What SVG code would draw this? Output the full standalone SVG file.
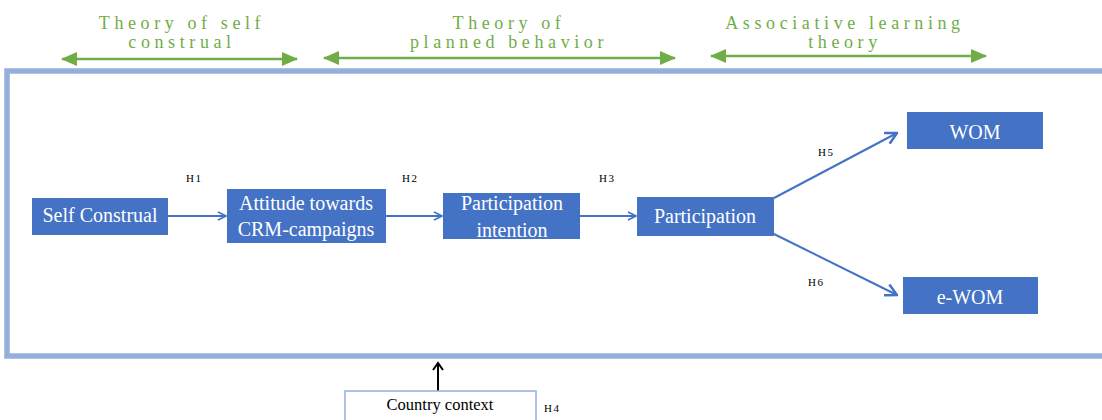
<svg xmlns="http://www.w3.org/2000/svg" width="1102" height="420" viewBox="0 0 1102 420">
<style>
.node{fill:#4472C4;}
.nt{font-family:"Liberation Serif","Times New Roman",serif;font-size:20px;fill:#fff;text-anchor:middle;}
.theory{font-family:"Liberation Serif","Times New Roman",serif;font-size:18px;fill:#70AD47;text-anchor:middle;letter-spacing:4.6px;}
.h{font-family:"Liberation Serif","Times New Roman",serif;font-size:11px;fill:#000;letter-spacing:1.5px;}
.conn{stroke:#4472C4;stroke-width:2;fill:none;}
.g{stroke:#70AD47;stroke-width:2.5;fill:none;}
</style>
<defs>
<marker id="ab" viewBox="0 0 10 10" refX="9" refY="5" markerWidth="10" markerHeight="10" markerUnits="userSpaceOnUse" orient="auto">
<path d="M1,1 L9,5 L1,9" fill="none" stroke="#4472C4" stroke-width="1.6"/>
</marker>
<marker id="abl" viewBox="0 0 14 14" refX="12.5" refY="7" markerWidth="14" markerHeight="14" markerUnits="userSpaceOnUse" orient="auto">
<path d="M1,1 L12.5,7 L1,13" fill="none" stroke="#4472C4" stroke-width="2.5"/>
</marker>
<marker id="ak" viewBox="0 0 12 12" refX="10" refY="6" markerWidth="12" markerHeight="12" markerUnits="userSpaceOnUse" orient="auto">
<path d="M3,1 L10,6 L3,11" fill="none" stroke="#000" stroke-width="2"/>
</marker>
<marker id="ag" viewBox="0 0 16 14" refX="15" refY="7" markerWidth="16" markerHeight="14" markerUnits="userSpaceOnUse" orient="auto-start-reverse">
<path d="M0,0 L16,7 L0,14 Z" fill="#70AD47"/>
</marker>
</defs>

<g id="theories">
<text class="theory" x="182" y="29">Theory of self</text>
<text class="theory" x="182" y="48">construal</text>
<text class="theory" x="509" y="29">Theory of</text>
<text class="theory" x="509" y="48">planned behavior</text>
<text class="theory" x="845" y="29">Associative learning</text>
<text class="theory" x="845" y="48">theory</text>
<line class="g" x1="62" y1="59" x2="297" y2="59" marker-start="url(#ag)" marker-end="url(#ag)"/>
<line class="g" x1="324" y1="58" x2="675" y2="58" marker-start="url(#ag)" marker-end="url(#ag)"/>
<line class="g" x1="711" y1="56" x2="986" y2="56" marker-start="url(#ag)" marker-end="url(#ag)"/>
</g>

<g id="frame">
<rect x="7" y="71" width="1110" height="285" fill="none" stroke="#95AFDC" stroke-width="5.5"/>
</g>

<g id="connectors">
<line class="conn" x1="168" y1="216" x2="226" y2="216" marker-end="url(#ab)"/>
<line class="conn" x1="386" y1="216" x2="442" y2="216" marker-end="url(#ab)"/>
<line class="conn" x1="580" y1="216" x2="636" y2="216" marker-end="url(#ab)"/>
<line class="conn" x1="774" y1="198" x2="897" y2="133" stroke-width="2.5" marker-end="url(#abl)"/>
<line class="conn" x1="774" y1="234" x2="897" y2="295" stroke-width="2.5" marker-end="url(#abl)"/>
<line x1="438" y1="391" x2="438" y2="363" stroke="#000" stroke-width="2" marker-end="url(#ak)"/>
</g>

<g id="labels">
<text class="h" x="186" y="182">H1</text>
<text class="h" x="402" y="182">H2</text>
<text class="h" x="599" y="182">H3</text>
<text class="h" x="818" y="156">H5</text>
<text class="h" x="808" y="286">H6</text>
<text class="h" x="544" y="412">H4</text>
</g>

<g id="self-construal">
<rect class="node" x="32" y="198" width="136" height="37"/>
<text class="nt" x="100" y="222">Self Construal</text>
</g>
<g id="attitude">
<rect class="node" x="227" y="189" width="159" height="54"/>
<text class="nt" x="306" y="210">Attitude towards</text>
<text class="nt" x="306" y="236">CRM-campaigns</text>
</g>
<g id="participation-intention">
<rect class="node" x="443" y="193" width="137" height="46"/>
<text class="nt" x="512" y="210">Participation</text>
<text class="nt" x="512" y="237">intention</text>
</g>
<g id="participation">
<rect class="node" x="637" y="197" width="137" height="39"/>
<text class="nt" x="705" y="223">Participation</text>
</g>
<g id="wom">
<rect class="node" x="907" y="112" width="136" height="37"/>
<text class="nt" x="975" y="139">WOM</text>
</g>
<g id="ewom">
<rect class="node" x="903" y="277" width="135" height="37"/>
<text class="nt" x="970" y="304">e-WOM</text>
</g>
<g id="country-context">
<rect x="345" y="391" width="191" height="40" fill="#fff" stroke="#95AFDC" stroke-width="1.5"/>
<text x="440" y="410" font-family="Liberation Serif, Times New Roman, serif" font-size="16.5" fill="#000" text-anchor="middle">Country context</text>
</g>
</svg>
